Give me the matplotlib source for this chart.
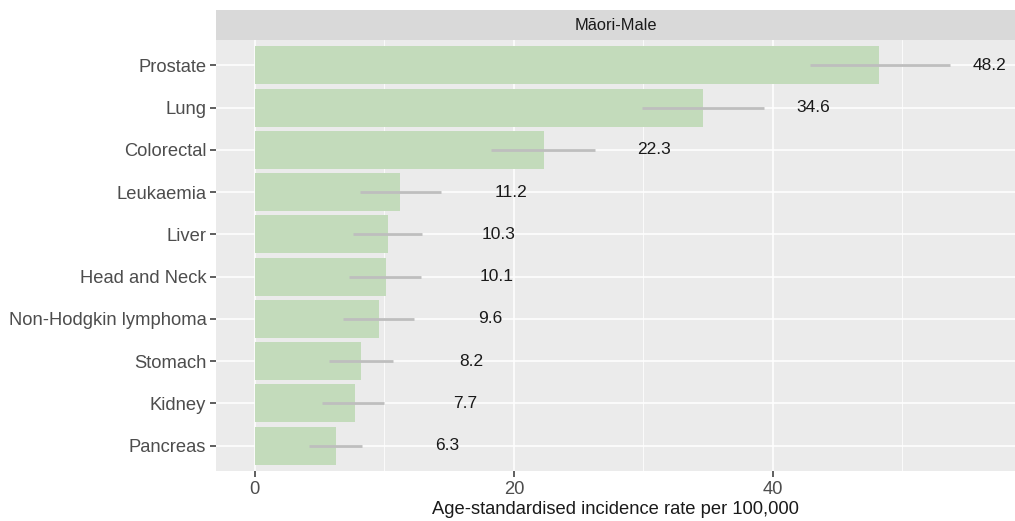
import matplotlib
matplotlib.use("Agg")
import matplotlib.pyplot as plt
from matplotlib.ticker import MultipleLocator

plt.rcParams['font.family'] = ['Liberation Sans', 'DejaVu Sans']

categories = ["Prostate", "Lung", "Colorectal", "Leukaemia", "Liver", "Head and Neck",
              "Non-Hodgkin lymphoma", "Stomach", "Kidney", "Pancreas"]
rates = [48.2, 34.6, 22.3, 11.2, 10.3, 10.1, 9.6, 8.2, 7.7, 6.3]
ci_low = [42.9, 29.9, 18.2, 8.1, 7.6, 7.3, 6.8, 5.7, 5.2, 4.2]
ci_high = [53.7, 39.3, 26.3, 14.4, 12.9, 12.8, 12.3, 10.7, 10.0, 8.3]
panel_title = "Māori-Male"
x_label = "Age-standardised incidence rate per 100,000"

W, H = 1015, 521
fig = plt.figure(figsize=(W / 100, H / 100), dpi=100)
left, right, top, bottom = 216, 1015, 40, 471
ax = fig.add_axes([left / W, 1 - bottom / H, (right - left) / W, (bottom - top) / H])
ax.set_facecolor("#EBEBEB")

n = len(categories)
ypos = [n - i for i in range(n)]

ax.set_axisbelow(True)
ax.xaxis.set_major_locator(MultipleLocator(20))
ax.xaxis.set_minor_locator(MultipleLocator(10))
ax.grid(which="major", axis="both", color="white", linewidth=1.1)
ax.grid(which="minor", axis="x", color="white", linewidth=0.55)

ax.barh(ypos, rates, height=0.9, color="#C3DBBB", zorder=2)
ax.hlines(ypos, ci_low, ci_high, color="#BEBEBE", linewidth=2, zorder=3)
for y, r in zip(ypos, rates):
    ax.text(r + 8.55, y, f"{r}", ha="center", va="center", fontsize=12.5, color="#1A1A1A", zorder=4)

ax.set_xlim(-3.0, 58.7)
ax.set_ylim(0.4, n + 0.6)
ax.set_yticks(ypos)
ax.set_yticklabels(categories)
ax.set_xticks([0, 20, 40])
ax.tick_params(axis="both", which="major", colors="#333333", labelcolor="#4D4D4D",
               labelsize=13.2, length=4, width=1.1)
ax.tick_params(axis="y", which="major", pad=3)
ax.tick_params(axis="x", which="minor", length=0)
for s in ax.spines.values():
    s.set_visible(False)
ax.set_xlabel(x_label, fontsize=13.2, color="#1A1A1A", labelpad=2)

# facet strip
sax = fig.add_axes([left / W, 1 - top / H, (right - left) / W, 30 / H])
sax.set_facecolor("#D9D9D9")
sax.set_xticks([])
sax.set_yticks([])
for s in sax.spines.values():
    s.set_visible(False)
sax.text(0.5, 0.5, panel_title, ha="center", va="center", fontsize=11.8, color="#1A1A1A",
         transform=sax.transAxes)

fig.savefig("out.png", dpi=100)
